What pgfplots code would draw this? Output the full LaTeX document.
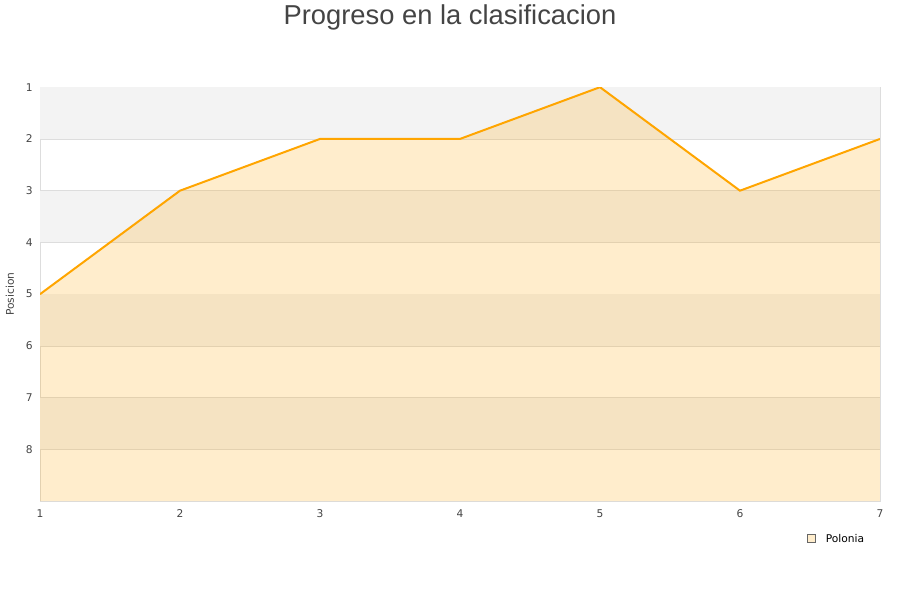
\documentclass[border=0pt]{standalone}
\usepackage{pgfplots}
\pgfplotsset{compat=1.18}
\usepackage{fontspec}
\setmainfont{DejaVu Sans}
\newfontfamily\titlefont{Liberation Sans}
\definecolor{linec}{HTML}{FFA500}
\definecolor{bandc}{HTML}{F3F3F3}
\definecolor{gridc}{HTML}{DDDDDD}
\definecolor{txtc}{HTML}{444444}

\begin{document}
\begin{tikzpicture}
  \path (-30pt,-75pt) rectangle (645pt,375pt);
  \begin{axis}[
    at={(0,0)}, anchor=south west,
    scale only axis,
    width=630pt, height=310.5pt,
    xmin=1, xmax=7, ymin=1, ymax=9,
    y dir=reverse,
    xtick={1,...,7}, ytick={1,...,8},
    tick style={draw=none},
    axis line style={draw=gridc},
    ymajorgrids, grid style={gridc, line width=0.6pt},
    tick label style={font=\fontsize{8}{10}\selectfont, text=txtc},
    /pgf/number format/assume math mode=true,
    xticklabel style={yshift=-2.5pt},
    yticklabel style={xshift=-2pt},
    legend style={at={(rel axis cs:0.913,0)}, anchor=west, yshift=-27.75pt,
      draw=none, fill=none, font=\fontsize{8}{10}\selectfont,
      inner sep=0pt, legend cell align=left,
      nodes={inner sep=0pt, text depth=0pt}},
    legend image code/.code={
      \draw[draw=gray!80!black, fill=linec!20, line width=0.4pt] (0pt,-3pt) rectangle (6pt,3pt);
      \path (13pt,0pt);
    },
  ]
    \pgfplotsinvokeforeach{1,3,5,7}{
      \fill[bandc] (axis cs:1,#1) rectangle (axis cs:7,#1+1);
    }
    \addplot[draw=none, fill=linec, fill opacity=0.2, forget plot]
      coordinates {(1,5) (2,3) (3,2) (4,2) (5,1) (6,3) (7,2) (7,9) (1,9)} -- cycle;
    \addplot[draw=linec, line width=1.5pt, mark=none]
      coordinates {(1,5) (2,3) (3,2) (4,2) (5,1) (6,3) (7,2)};
    \addlegendentry{Polonia}
  \end{axis}
  \node[font=\titlefont\fontsize{20.5}{24}\selectfont, text=txtc] at (307.5pt,363pt) {Progreso en la clasificacion};
  \node[font=\fontsize{8}{10}\selectfont, text=txtc, rotate=90] at (-22.5pt,155.25pt) {Posicion};
\end{tikzpicture}
\end{document}
